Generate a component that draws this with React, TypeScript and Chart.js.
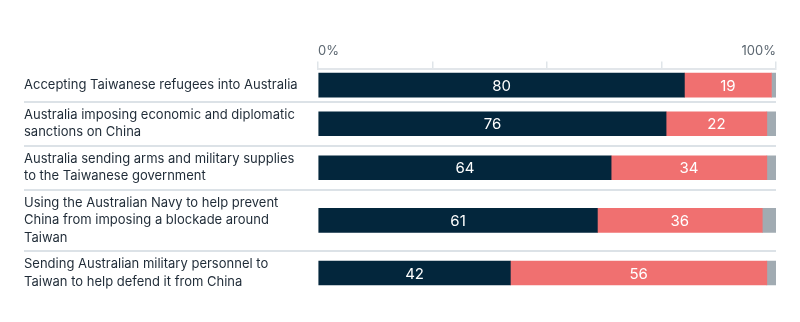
import React, { useEffect, useRef } from "react";
import { Chart, registerables } from "chart.js";
Chart.register(...registerables);

const categories: string[][] = [
  ["Accepting Taiwanese refugees into Australia"],
  ["Australia imposing economic and diplomatic", "sanctions on China"],
  ["Australia sending arms and military supplies", "to the Taiwanese government"],
  ["Using the Australian Navy to help prevent", "China from imposing a blockade around", "Taiwan"],
  ["Sending Australian military personnel to", "Taiwan to help defend it from China"],
];
const supportValues = [80, 76, 64, 61, 42];
const opposeValues = [19, 22, 34, 36, 56];
const otherValues = [1, 2, 2, 3, 2];
const seriesNames = ["Support", "Oppose", "Don't know"];
const tickLabels = ["0%", "", "", "", "100%"];

const NAVY = "#03263c";
const SALMON = "#f07070";
const GREY = "#a1abb2";
const FONT = "Inter, 'Noto Sans', sans-serif";

const BAR = 24;
const LINE_H = 17.5;
const ROW_PAD = 9.5;

export default function App() {
  const ref = useRef<HTMLCanvasElement>(null);
  useEffect(() => {
    document.body.style.margin = "0";
    const rowH = categories.map((c) => Math.max(BAR, c.length * LINE_H) + ROW_PAD);
    const starts: number[] = [];
    let acc = 0;
    rowH.forEach((h) => {
      starts.push(acc);
      acc += h;
    });
    const total = acc;
    const centers = starts.map((s, i) => s + rowH[i] / 2);

    const toPts = (vals: number[]) => vals.map((v, i) => ({ x: v, y: centers[i] }));

    const overlay = {
      id: "overlay",
      afterDatasetsDraw(chart: any) {
        const ctx = chart.ctx;
        const ys = chart.scales.y;
        const area = chart.chartArea;
        ctx.save();
        ctx.strokeStyle = "#dce2e7";
        ctx.lineWidth = 2;
        for (let i = 1; i < starts.length; i++) {
          const py = Math.round(ys.getPixelForValue(starts[i]));
          ctx.beginPath();
          ctx.moveTo(24, py);
          ctx.lineTo(area.right, py);
          ctx.stroke();
        }
        ctx.fillStyle = "#1f2b37";
        ctx.font = `13px ${FONT}`;
        ctx.textAlign = "left";
        ctx.textBaseline = "middle";
        categories.forEach((lines, i) => {
          const cy = ys.getPixelForValue(centers[i]);
          lines.forEach((ln, j) => {
            ctx.fillText(ln, 24, cy + (j - (lines.length - 1) / 2) * LINE_H);
          });
        });
        ctx.fillStyle = "#ffffff";
        ctx.font = `15px ${FONT}`;
        ctx.textAlign = "center";
        [0, 1].forEach((di) => {
          const meta = chart.getDatasetMeta(di);
          const ds = chart.data.datasets[di];
          meta.data.forEach((el: any, i: number) => {
            const cx = (el.x + el.base) / 2;
            ctx.fillText(String(ds.data[i].x), cx, el.y + 1);
          });
        });
        ctx.restore();
      },
    };

    const chart = new Chart(ref.current!, {
      type: "bar",
      data: {
        datasets: [
          { label: seriesNames[0], data: toPts(supportValues), backgroundColor: NAVY },
          { label: seriesNames[1], data: toPts(opposeValues), backgroundColor: SALMON },
          { label: seriesNames[2], data: toPts(otherValues), backgroundColor: GREY },
        ],
      },
      options: {
        indexAxis: "y",
        responsive: false,
        animation: false,
        devicePixelRatio: 1,
        layout: { padding: { left: 318, right: 24, top: 40, bottom: 27 } },
        datasets: { bar: { barThickness: BAR, borderWidth: 0 } },
        plugins: { legend: { display: false }, tooltip: { enabled: false } },
        scales: {
          x: {
            type: "linear",
            position: "top",
            stacked: true,
            min: 0,
            max: 100,
            ticks: {
              stepSize: 25,
              align: "inner",
              padding: 3,
              color: "#5b6670",
              font: { family: FONT, size: 13 },
              callback: (_v: any, idx: number) => tickLabels[idx],
            },
            grid: {
              drawOnChartArea: false,
              drawTicks: true,
              tickLength: 7,
              color: "#e0e5e9",
              lineWidth: 1.5,
            },
            border: { display: true, color: "#e2e6ea", width: 2 },
          },
          y: {
            type: "linear",
            display: false,
            reverse: true,
            stacked: true,
            offset: false,
            grid: { offset: false },
            min: 0,
            max: total,
          },
        },
      },
      plugins: [overlay],
    } as any);
    return () => chart.destroy();
  }, []);
  return <canvas ref={ref} width={800} height={322} style={{ display: "block" }} />;
}
